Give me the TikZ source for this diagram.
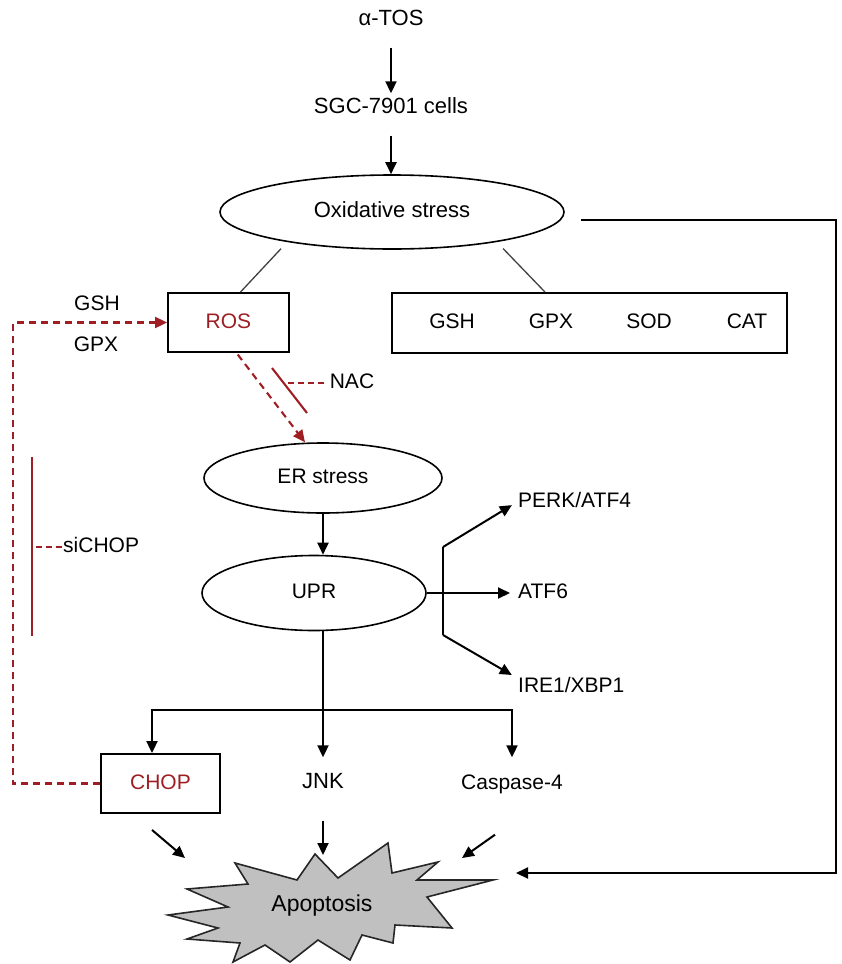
\documentclass[tikz,border=0pt]{standalone}
\usepackage{fontspec}
\setmainfont{Liberation Sans}
\usetikzlibrary{arrows.meta,shapes.geometric}
\definecolor{dred}{RGB}{158,30,36}
\definecolor{stargray}{RGB}{192,192,192}
\begin{document}
\begin{tikzpicture}[x=1pt,y=-1pt,
  lbl/.style={font=\fontsize{21}{24}\selectfont, inner sep=1pt, text height=15pt, text depth=4pt},
  big/.style={font=\fontsize{22}{25}\selectfont},
  ell/.style={lbl, draw, ellipse, line width=1.6pt, inner sep=0pt},
  box/.style={lbl, draw, line width=1.9pt, inner sep=0pt},
  line/.style={line width=2pt},
  thinline/.style={line width=1.3pt, draw=black!75},
  arr/.style={line width=2pt, -{Triangle[length=12pt,width=11pt]}},
  redarr/.style={draw=dred, line width=2.1pt, dash pattern=on 7pt off 5pt, -{Triangle[length=12pt,width=11pt]}},
  reddash/.style={draw=dred, line width=2.1pt, dash pattern=on 6pt off 4pt},
  redline/.style={draw=dred, line width=2.1pt},
]
\useasboundingbox (0,0) rectangle (842,964);

% --- nodes ---
\node[lbl, big] (tos) at (391,20) {α-TOS};
\node[lbl, big] (sgc) at (391,108) {SGC-7901 cells};
\node[ell, big, minimum width=344pt, minimum height=74pt] (ox) at (392,212) {Oxidative stress};
\node[box, minimum width=121pt, minimum height=59pt, text=dred] (ros) at (228.5,322.5) {ROS};
\node[box, minimum width=395pt, minimum height=60pt] (antiox) at (589.5,323) {};
\node[lbl] (gsha) at (452,323) {GSH};
\node[lbl] (gpxa) at (551,323) {GPX};
\node[lbl] (sod) at (649,323) {SOD};
\node[lbl] (cat) at (747,323) {CAT};
\node[lbl] (gshb) at (97,305) {GSH};
\node[lbl] (gpxb) at (96,346) {GPX};
\node[lbl] (nac) at (352,383) {NAC};
\node[ell, minimum width=238pt, minimum height=70pt] (er) at (323,478) {ER stress};
\node[ell, minimum width=224pt, minimum height=75pt] (upr) at (314,593) {UPR};
\node[lbl, anchor=west] (perk) at (517,502) {PERK/ATF4};
\node[lbl, anchor=west] (atf6) at (517,593) {ATF6};
\node[lbl, anchor=west] (ire) at (517,687) {IRE1/XBP1};
\node[lbl, anchor=west] (sichop) at (62,547) {siCHOP};
\node[box, minimum width=119pt, minimum height=59pt, text=dred] (chop) at (160.5,783.5) {CHOP};
\node[lbl, big] (jnk) at (323,783) {JNK};
\node[lbl] (casp) at (512,784) {Caspase-4};

% --- apoptosis starburst ---
\filldraw[fill=stargray, draw=black!85, line width=1.6pt, line join=miter]
  (315,854) -- (338,878) -- (388,843) -- (392,873) -- (438,862) -- (417,880) --
  (493,880) -- (427,897) -- (452,928) -- (395,925) -- (393,943) -- (362,935) --
  (350,960) -- (318,940) -- (290,962) -- (265,945) -- (233,962) -- (240,943) --
  (187,939) -- (218,928) -- (168,915) -- (228,907) -- (187,889) -- (248,884) --
  (235,863) -- (297,880) -- cycle;
\node[lbl, font=\fontsize{23}{26}\selectfont] (apop) at (322,906) {Apoptosis};

% --- coordinates ---
\coordinate (rc1) at (836,220);
\coordinate (rc2) at (836,873);
\coordinate (apin) at (516,873);
\coordinate (nac1) at (272,368);
\coordinate (nac2) at (307,413);
\coordinate (nacm) at (286,383);
\coordinate (sc1) at (32,457);
\coordinate (sc2) at (32,636);
\coordinate (scm) at (32,547);
\coordinate (b1) at (443,547);
\coordinate (b2) at (443,635);
\coordinate (jn) at (323,710);
\coordinate (aj) at (323,855);
\coordinate (ac) at (185,858);
\coordinate (ak) at (462,858);

% --- connectors ---
\draw[arr, shorten <=17pt, shorten >=4pt] (tos.south) -- (tos.south |- sgc.north);
\draw[arr, shorten <=17pt] (sgc.south) -- (sgc.south |- ox.north);
\draw[arr] ([xshift=16pt,yshift=-8pt]ox.east) -- (rc1) -- (rc2) -- (apin);
\draw[thinline, shorten <=9pt] (ox.196) -- ([xshift=12pt]ros.north);
\draw[thinline, shorten <=9pt] (ox.344) -- ([xshift=-44.5pt]antiox.north);

\draw[redarr] (chop.west) -- ++(-87,0) |- (ros.west);
\draw[redarr, shorten <=2pt] ([xshift=8pt]ros.south) -- ([xshift=-18pt]er.north);
\draw[redline] (nac1) -- (nac2);
\draw[reddash, shorten <=5pt] (nac.west) -- (nacm);
\draw[redline] (sc1) -- (sc2);
\draw[reddash] (sichop.west) -- (scm);

\draw[arr] (er.south) -- (er.south |- upr.north);
\draw[arr, shorten >=7pt] (upr.east) -- (atf6.west);
\draw[line] (b1) -- (b2);
\draw[arr, shorten >=6pt] (b1) -- (perk.west);
\draw[arr, shorten >=6pt] (b2) -- ([yshift=9pt]ire.west);

\draw[line] (er.south |- upr.south) -- (jn);
\draw[arr, shorten >=15pt] (jn) -- (jnk.north);
\draw[arr] (jn) -| ([xshift=-8.5pt]chop.north);
\draw[arr, shorten >=16pt] (jn) -| (casp.north);

\draw[arr] ([xshift=-8.5pt,yshift=-16pt]chop.south) -- (ac);
\draw[arr] ([yshift=-27pt]jnk.south) -- (aj);
\draw[arr] ([xshift=-17pt,yshift=-40pt]casp.south) -- (ak);
\end{tikzpicture}
\end{document}
